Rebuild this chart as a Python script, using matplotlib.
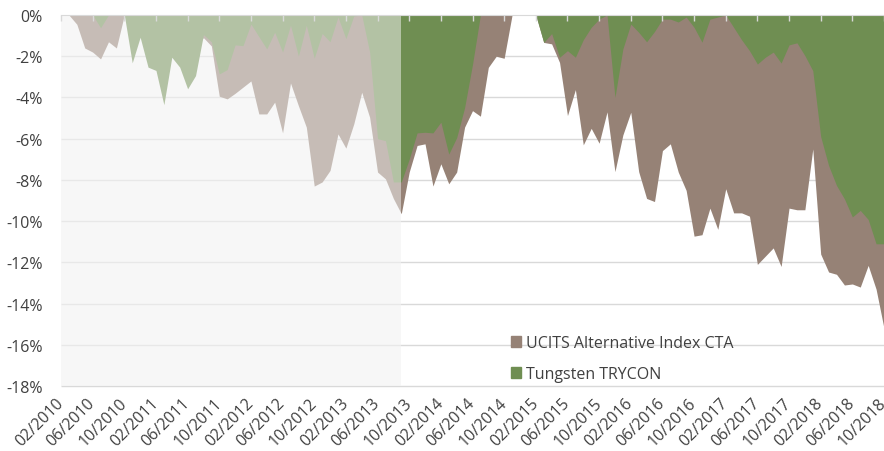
import numpy as np
import matplotlib.pyplot as plt
from matplotlib.patches import Patch

# monthly drawdown in %, 02/2010 .. 10/2018
ucits = [0, 0, -0.45, -1.6, -1.8, -2.13, -1.3, -1.6, 0, -0.9,
         -0.5, -1.2, -1.4, -2.2, -1.0, -1.3, -1.9, -1.5, -1.1, -1.5,
         -3.94, -4.07, -3.8, -3.5, -3.2, -4.8, -4.8, -4.23, -5.72, -3.3,
         -4.4, -5.44, -8.3, -8.1, -7.54, -5.77, -6.46, -5.28, -3.75, -4.96,
         -7.62, -7.95, -8.9, -9.64, -7.62, -6.33, -6.25, -8.3, -7.22, -8.19,
         -7.62, -5.44, -4.64, -4.91, -2.54, -2.0, -2.1, 0, 0, 0,
         0, -1.33, -1.4, -2.3, -4.88, -3.62, -6.3, -5.5, -6.22, -4.7,
         -7.6, -5.82, -4.72, -7.6, -8.9, -9.05, -6.58, -6.25, -7.62, -8.51,
         -10.73, -10.66, -9.37, -10.4, -8.43, -9.6, -9.6, -9.76, -12.1, -11.7,
         -11.3, -12.2, -9.37, -9.45, -9.45, -6.5, -11.6, -12.47, -12.58, -13.1,
         -13.05, -13.2, -12.15, -13.3, -15.2]

trycon = [0, 0, 0, 0, 0, -0.62, 0, 0, 0, -2.32,
          -1.08, -2.53, -2.69, -4.35, -2.05, -2.53, -3.58, -2.94, -0.95, -1.3,
          -2.86, -2.65, -1.45, -1.49, -0.44, -1.05, -1.65, -0.84, -1.8, -0.5,
          -2.0, -0.5, -2.1, -0.9, -1.3, -0.1, -1.15, -0.05, 0, -1.8,
          -6.0, -6.1, -8.1, -8.1, -7.0, -5.72, -5.69, -5.72, -5.2, -6.75,
          -5.95, -4.5, -2.4, 0, 0, 0, 0, 0, 0, 0,
          0, -1.33, -0.9, -2.05, -1.73, -2.05, -1.2, -0.6, -0.2, 0,
          -4.0, -1.65, -0.44, -0.84, -1.3, -0.8, -0.2, -0.2, -0.34, -0.1,
          -0.6, -1.32, -0.2, -0.1, 0, -0.6, -1.2, -1.73, -2.38, -2.05,
          -1.8, -2.33, -1.45, -1.35, -1.97, -2.7, -5.9, -7.3, -8.27, -8.92,
          -9.8, -9.48, -9.92, -11.1, -11.1]

tick_labels = ['02/2010', '06/2010', '10/2010', '02/2011', '06/2011', '10/2011',
               '02/2012', '06/2012', '10/2012', '02/2013', '06/2013', '10/2013',
               '02/2014', '06/2014', '10/2014', '02/2015', '06/2015', '10/2015',
               '02/2016', '06/2016', '10/2016', '02/2017', '06/2017', '10/2017',
               '02/2018', '06/2018', '10/2018']
y_ticks = [0, -2, -4, -6, -8, -10, -12, -14, -16, -18]
shade_end = 43  # pre track record period is greyed out

plt.rcParams['font.family'] = ['Open Sans', 'DejaVu Sans']

brown = '#968276'
green = '#6f8e52'
text_col = '#404040'
grid_col = '#d9d9d9'
fs = 11.5

x = np.arange(len(ucits))

fig = plt.figure(figsize=(8.84, 4.52), dpi=100)
ax = fig.add_axes([61 / 884, 65 / 452, 823 / 884, 371 / 452])

ax.axvspan(0, shade_end, color='#f7f7f7', lw=0, zorder=0.2)
ax.hlines(y_ticks[1:], 0, len(ucits) - 1, color=grid_col, lw=1, zorder=1, clip_on=False)
ax.fill_between(x, ucits, 0, color=brown, lw=0, zorder=2)
ax.fill_between(x, trycon, 0, color=green, lw=0, zorder=3)
ax.axvspan(0, shade_end, color='#f7f7f7', alpha=0.5, lw=0, zorder=4)

ax.set_xlim(0, len(ucits) - 1)
ax.set_ylim(-18, 0)

for s in ['left', 'right', 'bottom']:
    ax.spines[s].set_visible(False)
ax.spines['top'].set_color(grid_col)
ax.spines['top'].set_zorder(5)
ax.xaxis.set_zorder(5)

ax.set_yticks(y_ticks)
ax.set_yticklabels([f'{v}%' for v in y_ticks])
ax.tick_params(axis='y', length=0, pad=13, labelsize=fs, labelcolor=text_col)

ax.set_xticks(range(0, len(ucits), 4))
ax.set_xticklabels(tick_labels)
ax.tick_params(axis='x', top=True, bottom=False, direction='in', length=4, width=1,
               color=grid_col, labeltop=False, labelbottom=True, labelsize=fs,
               labelcolor=text_col, pad=10)
for lbl in ax.get_xticklabels():
    lbl.set_rotation(45)
    lbl.set_ha('right')
    lbl.set_va('center')
    lbl.set_rotation_mode('anchor')

handles = [Patch(color=brown, label='UCITS Alternative Index CTA'),
           Patch(color=green, label='Tungsten TRYCON')]
ax.legend(handles=handles, loc='upper left', bbox_to_anchor=(511 / 884, 1 - 336 / 452),
          bbox_transform=fig.transFigure, frameon=False, fontsize=fs,
          handlelength=0.65, handleheight=0.65, handletextpad=0.3, labelspacing=0.95,
          borderpad=0, borderaxespad=0, labelcolor=text_col)

fig.savefig('out.png', dpi=100)
